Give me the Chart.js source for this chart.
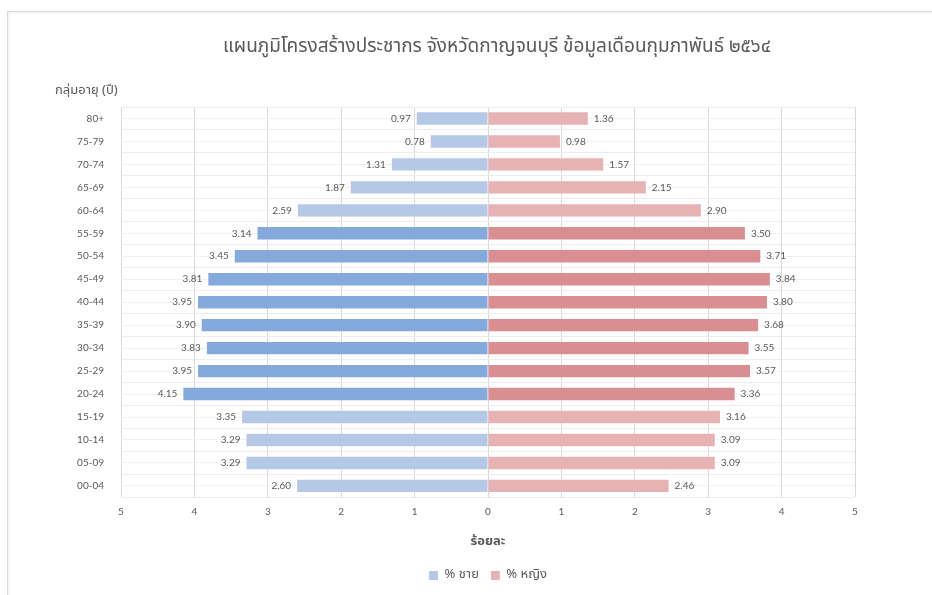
<!DOCTYPE html>
<html>
<head>
<meta charset="utf-8">
<script src="https://cdn.jsdelivr.net/npm/chart.js@4"></script>
<style>
  html, body { margin: 0; padding: 0; background: #fff; overflow: hidden; }
  #wrap { position: relative; width: 932px; height: 595px; }
  #frame { position: absolute; left: 7px; top: 11px; width: 960px; height: 620px;
           border: 1px solid #d9d9d9; box-shadow: inset 1px 1px 2px #eee; }
  canvas { position: absolute; left: 0; top: 0; }
</style>
</head>
<body>
<div id="wrap">
  <div id="frame"></div>
  <canvas id="pyramidCanvas" width="932" height="595"></canvas>
</div>
<script>
// data
const ageGroups = ['80+', '75-79', '70-74', '65-69', '60-64', '55-59', '50-54', '45-49', '40-44',
  '35-39', '30-34', '25-29', '20-24', '15-19', '10-14', '05-09', '00-04']
const malePercent = [0.97, 0.78, 1.31, 1.87, 2.59, 3.14, 3.45, 3.81, 3.95, 3.90, 3.83, 3.95, 4.15, 3.35, 3.29, 3.29, 2.60]
const femalePercent = [1.36, 0.98, 1.57, 2.15, 2.90, 3.50, 3.71, 3.84, 3.80, 3.68, 3.55, 3.57, 3.36, 3.16, 3.09, 3.09, 2.46]
const workingAge = ['55-59', '50-54', '45-49', '40-44', '35-39', '30-34', '25-29', '20-24']
const seriesNames = ['% ชาย', '% หญิง']

const chartTitle = 'แผนภูมิโครงสร้างประชากร จังหวัดกาญจนบุรี ข้อมูลเดือนกุมภาพันธ์ ๒๕๖๔'
const yTitle = 'กลุ่มอายุ (ปี)'
const xTitle = 'ร้อยละ'

const textGrey = '#595959'
const thaiFont = '"Noto Sans Thai", "Noto Sans", Lato, sans-serif'
const numFont = 'Lato, "Noto Sans", sans-serif'

function barColor(dark, light) {
    return function (ctx) {
        if (ctx.dataIndex !== undefined && workingAge.includes(ageGroups[ctx.dataIndex])) return dark
        return light
    }
}

// ค่าตัวเลขที่ปลายแท่ง
const valueLabels = {
    id: 'valueLabels',
    afterDatasetsDraw(chart) {
        const c = chart.ctx
        c.save()
        c.font = '10px ' + numFont
        c.fillStyle = textGrey
        c.textBaseline = 'middle'
        chart.data.datasets.forEach((ds, i) => {
            chart.getDatasetMeta(i).data.forEach((bar, j) => {
                const v = Math.abs(ds.data[j])
                if (ds.data[j] < 0) {
                    c.textAlign = 'right'
                    c.fillText(v.toFixed(2), bar.x - 6, bar.y)
                } else {
                    c.textAlign = 'left'
                    c.fillText(v.toFixed(2), bar.x + 6, bar.y)
                }
            })
        })
        c.restore()
    }
}

// หัวเรื่อง และชื่อแกนตั้ง
const headings = {
    id: 'headings',
    afterDraw(chart) {
        const c = chart.ctx
        const area = chart.chartArea
        c.save()
        c.fillStyle = textGrey
        c.textBaseline = 'middle'
        c.textAlign = 'center'
        c.font = '19px ' + thaiFont
        c.fillText(chartTitle, (area.left + area.right) / 2 + 9, 48)
        c.textAlign = 'left'
        c.font = '13px ' + thaiFont
        c.fillText(yTitle, 55, 91)
        c.restore()
    }
}

new Chart(document.getElementById('pyramidCanvas'), {
    type: 'bar',
    data: {
        labels: ageGroups,
        datasets: [{
            label: seriesNames[0],
            data: malePercent.map(v => -v),
            backgroundColor: barColor('#86a9dc', '#b5c8e6'),
            barPercentage: 0.54,
            categoryPercentage: 1
        }, {
            label: seriesNames[1],
            data: femalePercent,
            backgroundColor: barColor('#d98e91', '#e7b2b4'),
            barPercentage: 0.54,
            categoryPercentage: 1
        }]
    },
    options: {
        indexAxis: 'y',
        responsive: false,
        animation: false,
        layout: {
            padding: { top: 107, left: 0, right: 77, bottom: 3 }
        },
        plugins: {
            title: { display: false },
            tooltip: { enabled: false },
            legend: {
                position: 'bottom',
                fullSize: false,
                labels: {
                    boxWidth: 9,
                    boxHeight: 9,
                    padding: 12,
                    color: textGrey,
                    font: { size: 13, family: thaiFont }
                }
            }
        },
        scales: {
            x: {
                stacked: true,
                min: -5,
                max: 5,
                ticks: {
                    stepSize: 1,
                    padding: 8,
                    color: textGrey,
                    font: { size: 10, family: numFont },
                    callback: function (value) {
                        return Math.abs(value)
                    }
                },
                grid: { color: '#d9d9d9', drawTicks: false },
                border: { display: false },
                title: {
                    display: true,
                    text: xTitle,
                    color: textGrey,
                    font: { size: 13, weight: 'bold', family: thaiFont },
                    padding: { top: 9, bottom: 7 }
                }
            },
            y: {
                stacked: true,
                ticks: {
                    padding: 17,
                    color: textGrey,
                    font: { size: 10, family: numFont }
                },
                grid: { color: '#ececec', drawTicks: false, offset: true },
                border: { display: false },
                afterFit: function (scale) { scale.width = 121 }
            },
            y2: {
                type: 'category',
                labels: ageGroups,
                position: 'left',
                offset: true,
                ticks: { display: false },
                grid: { color: '#f1f1f1', drawTicks: false, offset: false },
                border: { display: false },
                afterFit: function (scale) { scale.width = 0 }
            }
        }
    },
    plugins: [valueLabels, headings]
})
</script>
</body>
</html>
